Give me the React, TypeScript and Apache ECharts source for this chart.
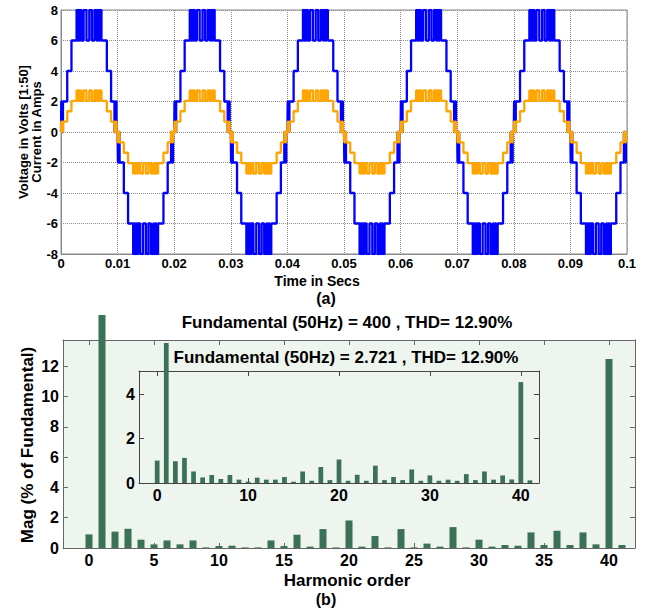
import React, { useEffect, useRef } from "react";
import * as echarts from "echarts";

const FONT = 'Arial, "Liberation Sans", Helvetica, sans-serif';

// ---- (a) inverter output waveforms ----
// Output voltage levels (scaled 1:50) and the matching load-current levels
const VOLTAGE_LEVELS = [0, 2, 4, 6, 8];
const CURRENT_LEVELS = [0, 0.68, 1.36, 2.04, 2.72];

// Switching instants within one positive half cycle (ms) and the level index held afterwards
const HALF_CYCLE_STEPS: [number, number][] = [
  [0.05, 1], [0.2, 0], [0.35, 1],
  [1.1, 2], [1.85, 3],
  [2.75, 4], [2.92, 3], [3.1, 4], [3.27, 3], [3.45, 4], [3.62, 3],
  [4.0, 4], [4.5, 3], [5.0, 4], [5.45, 3], [5.9, 4],
  [6.3, 3], [6.5, 4], [6.7, 3], [6.9, 4], [7.15, 3],
  [8.1, 2], [8.85, 1], [9.45, 0], [9.65, 1], [9.8, 0],
];
const HALF_CYCLE_MS = 10;
const HALF_CYCLES = 10; // 0 to 0.1 s at 50 Hz

// ---- (b) FFT spectra, % of fundamental ----
const HARMONIC_ORDERS = Array.from({ length: 42 }, (_, i) => i);
const VOLTAGE_SPECTRUM = [
  0.9, 100, 1.08, 1.27, 0.55, 0.24, 0.5, 0.24, 0.5, 0.04,
  0.13, 0.15, 0.04, 0.04, 0.5, 0.13, 0.88, 0.09, 1.25, 0.04,
  1.82, 0.09, 0.79, 0.04, 1.25, 0.04, 0.29, 0.09, 1.38, 0.04,
  0.55, 0.09, 0.2, 0.15, 1.03, 0.2, 1.14, 0.2, 1.03, 0.24,
  12.5, 0.2,
];
const CURRENT_SPECTRUM = [
  1.01, 100, 0.98, 1.13, 0.52, 0.25, 0.36, 0.18, 0.36, 0.15,
  0.06, 0.24, 0.15, 0.15, 0.27, 0.06, 0.52, 0.1, 0.72, 0.13,
  1.06, 0.1, 0.37, 0.1, 0.78, 0.13, 0.27, 0.13, 0.61, 0.1,
  0.34, 0.1, 0.15, 0.1, 0.4, 0.13, 0.52, 0.15, 0.34, 0.16,
  4.55, 0.12,
];
const MAIN_X_TICKS = [0, 5, 10, 15, 20, 25, 30, 35, 40];
const MAIN_Y_TICKS = [0, 2, 4, 6, 8, 10, 12];
const INSET_X_TICKS = [0, 10, 20, 30, 40];
const INSET_Y_TICKS = [0, 2, 4];

const VOLTAGE_TITLE = "Fundamental (50Hz) = 400 , THD= 12.90%";
const CURRENT_TITLE = "Fundamental (50Hz) = 2.721 , THD= 12.90%";

const BAR_COLOR = "#3b7157";
const PLOT_BG = "#eef5ee";

function buildWave(levels: number[]): [number, number][] {
  const pts: [number, number][] = [[0, 0]];
  for (let h = 0; h < HALF_CYCLES; h++) {
    const sign = h % 2 === 0 ? 1 : -1;
    const t0 = h * HALF_CYCLE_MS;
    let prev = 0;
    for (const [ms, idx] of HALF_CYCLE_STEPS) {
      const t = (t0 + ms) / 1000;
      pts.push([t, sign * levels[prev]]);
      pts.push([t, sign * levels[idx]]);
      prev = idx;
    }
    pts.push([(t0 + HALF_CYCLE_MS) / 1000, sign * levels[prev]]);
  }
  return pts;
}

// Bars drawn through the axis scales; values beyond the axis stop a fixed distance above the frame
function barRenderer(widthUnits: number, overshoot: number) {
  return (params: any, api: any) => {
    const x = api.value(0);
    const v = api.value(1);
    const base = api.coord([x, 0]);
    const top = api.coord([x, v]);
    const w = api.size([widthUnits, 0])[0];
    const limit = params.coordSys.y - overshoot;
    const yTop = Math.max(top[1], limit);
    return {
      type: "rect",
      shape: { x: base[0] - w / 2, y: yTop, width: w, height: base[1] - yTop },
      style: { fill: BAR_COLOR },
    };
  };
}

const boldLabel = (size: number) => ({
  color: "#000",
  fontFamily: FONT,
  fontWeight: "bold" as const,
  fontSize: size,
});

function frameAxis(extra: any) {
  return {
    type: "value",
    axisLine: { show: true, onZero: false, lineStyle: { color: "#666", width: 1 } },
    axisTick: { show: true, inside: true, length: 5, lineStyle: { color: "#666" } },
    splitLine: { show: false },
    ...extra,
  };
}

function text(str: string, x: number, y: number, size: number, rotation = 0) {
  return {
    type: "text",
    x,
    y,
    rotation,
    z: 10,
    style: {
      text: str,
      fill: "#000",
      font: `bold ${size}px ${FONT}`,
      align: "center",
      verticalAlign: "middle",
    },
  };
}

function buildOption(): any {
  const mainData = HARMONIC_ORDERS.map((h, i) => [h, VOLTAGE_SPECTRUM[i]]);
  const insetData = HARMONIC_ORDERS.map((h, i) => [h, CURRENT_SPECTRUM[i]]);
  const dotted = { show: true, lineStyle: { color: "#8c8c8c", type: "dotted", width: 1 } };

  return {
    animation: false,
    backgroundColor: "#fff",
    textStyle: { fontFamily: FONT },
    grid: [
      { left: 61, top: 10, width: 566, height: 244, show: true, borderColor: "#8a8a8a", borderWidth: 1, backgroundColor: "transparent" },
      { left: 63, top: 340, width: 572, height: 208, show: true, borderWidth: 0, backgroundColor: PLOT_BG },
      { left: 139, top: 371, width: 400, height: 112, show: true, borderWidth: 0, backgroundColor: PLOT_BG },
    ],
    xAxis: [
      {
        type: "value",
        gridIndex: 0,
        min: 0,
        max: 0.1,
        interval: 0.01,
        axisLine: { show: true, onZero: false, lineStyle: { color: "#8a8a8a" } },
        axisTick: { show: false },
        splitLine: dotted,
        axisLabel: { ...boldLabel(13), margin: 3, formatter: (v: number) => String(+v.toFixed(2)) },
      },
      frameAxis({
        gridIndex: 1, min: -2, max: 42, position: "bottom",
        axisTick: { show: true, inside: true, length: 5, customValues: MAIN_X_TICKS, lineStyle: { color: "#666" } },
        axisLabel: { ...boldLabel(16), margin: 4, customValues: MAIN_X_TICKS },
      }),
      frameAxis({
        gridIndex: 1, min: -2, max: 42, position: "top",
        axisTick: { show: true, inside: true, length: 5, customValues: MAIN_X_TICKS, lineStyle: { color: "#666" } },
        axisLabel: { show: false },
      }),
      frameAxis({
        gridIndex: 2, min: -2, max: 42, position: "bottom",
        axisLine: { show: true, onZero: false, lineStyle: { color: "#444", width: 1 } },
        axisTick: { show: true, inside: true, length: 5, customValues: INSET_X_TICKS, lineStyle: { color: "#444" } },
        axisLabel: { ...boldLabel(16), margin: 4, customValues: INSET_X_TICKS },
      }),
      frameAxis({
        gridIndex: 2, min: -2, max: 42, position: "top",
        axisLine: { show: true, onZero: false, lineStyle: { color: "#444", width: 1 } },
        axisTick: { show: true, inside: true, length: 5, customValues: INSET_X_TICKS, lineStyle: { color: "#444" } },
        axisLabel: { show: false },
      }),
    ],
    yAxis: [
      {
        type: "value",
        gridIndex: 0,
        min: -8,
        max: 8,
        interval: 2,
        axisLine: { show: true, onZero: false, lineStyle: { color: "#8a8a8a" } },
        axisTick: { show: false },
        splitLine: dotted,
        axisLabel: { ...boldLabel(13), margin: 3 },
      },
      frameAxis({
        gridIndex: 1, min: 0, max: 13.75, position: "left",
        axisTick: { show: true, inside: true, length: 5, customValues: MAIN_Y_TICKS, lineStyle: { color: "#666" } },
        axisLabel: { ...boldLabel(16), margin: 4, customValues: MAIN_Y_TICKS },
      }),
      frameAxis({
        gridIndex: 1, min: 0, max: 13.75, position: "right",
        axisTick: { show: true, inside: true, length: 5, customValues: MAIN_Y_TICKS, lineStyle: { color: "#666" } },
        axisLabel: { show: false },
      }),
      frameAxis({
        gridIndex: 2, min: 0, max: 5.05, position: "left",
        axisLine: { show: true, onZero: false, lineStyle: { color: "#444", width: 1 } },
        axisTick: { show: true, inside: true, length: 5, customValues: INSET_Y_TICKS, lineStyle: { color: "#444" } },
        axisLabel: { ...boldLabel(16), margin: 4, customValues: INSET_Y_TICKS },
      }),
      frameAxis({
        gridIndex: 2, min: 0, max: 5.05, position: "right",
        axisLine: { show: true, onZero: false, lineStyle: { color: "#444", width: 1 } },
        axisTick: { show: true, inside: true, length: 5, customValues: INSET_Y_TICKS, lineStyle: { color: "#444" } },
        axisLabel: { show: false },
      }),
    ],
    series: [
      {
        name: "Voltage",
        type: "line",
        xAxisIndex: 0,
        yAxisIndex: 0,
        data: buildWave(VOLTAGE_LEVELS),
        symbol: "none",
        showSymbol: false,
        lineStyle: { color: "#0000ff", width: 2.3 },
        itemStyle: { color: "#0000ff" },
        z: 3,
      },
      {
        name: "Current",
        type: "line",
        xAxisIndex: 0,
        yAxisIndex: 0,
        data: buildWave(CURRENT_LEVELS),
        symbol: "none",
        showSymbol: false,
        lineStyle: { color: "#ffa500", width: 2.3 },
        itemStyle: { color: "#ffa500" },
        z: 4,
      },
      {
        name: "Voltage spectrum",
        type: "custom",
        xAxisIndex: 1,
        yAxisIndex: 1,
        data: mainData,
        encode: { x: 0, y: 1 },
        clip: false,
        renderItem: barRenderer(0.54, 25),
        z: 3,
      },
      {
        name: "Current spectrum",
        type: "custom",
        xAxisIndex: 3,
        yAxisIndex: 3,
        data: insetData,
        encode: { x: 0, y: 1 },
        clip: false,
        renderItem: barRenderer(0.52, 28),
        z: 5,
      },
    ],
    graphic: [
      text("Voltage in Volts [1:50]", 23, 132, 13, Math.PI / 2),
      text("Current in Amps", 36, 132, 13, Math.PI / 2),
      text("Time in Secs", 317, 281, 14),
      text("(a)", 326, 298, 16),
      text(VOLTAGE_TITLE, 347, 322, 17),
      text(CURRENT_TITLE, 346, 357, 17),
      text("Mag (% of Fundamental)", 27, 445, 17, Math.PI / 2),
      text("Harmonic order", 347, 580, 17),
      text("(b)", 326, 599, 16),
    ],
  };
}

export default function App() {
  const ref = useRef<HTMLDivElement>(null);
  useEffect(() => {
    if (!ref.current) return;
    const chart = echarts.init(ref.current, undefined, { renderer: "svg" });
    chart.setOption(buildOption());
    return () => chart.dispose();
  }, []);
  return (
    <div
      ref={ref}
      style={{ position: "absolute", left: 0, top: 0, width: 652, height: 608, background: "#fff" }}
    />
  );
}
